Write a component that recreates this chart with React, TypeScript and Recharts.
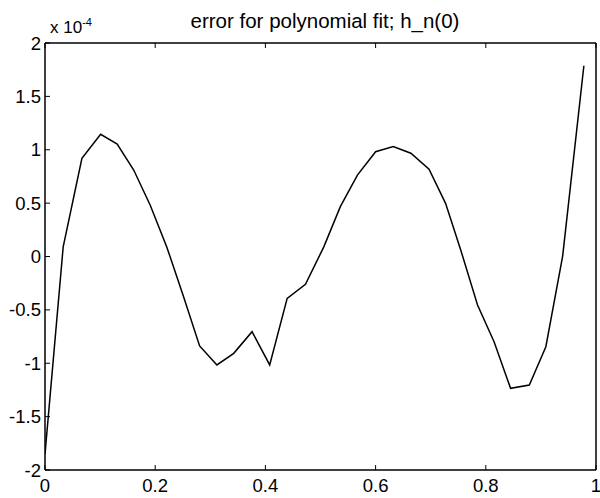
import React from "react";
import { LineChart, Line, XAxis, YAxis, ReferenceArea } from "recharts";

// sample positions and error values (units of 1e-4)
const xs = [
  0, 0.033, 0.067, 0.101, 0.131, 0.161, 0.191, 0.221, 0.2515, 0.2806, 0.312,
  0.3425, 0.3758, 0.4078, 0.4395, 0.4727, 0.506, 0.536, 0.567, 0.6, 0.632,
  0.664, 0.697, 0.727, 0.7545, 0.785, 0.815, 0.845, 0.879, 0.909, 0.9394,
  0.978,
];
const errs = [
  -1.85, 0.09, 0.92, 1.145, 1.054, 0.81, 0.48, 0.09, -0.377, -0.838, -1.016,
  -0.907, -0.704, -1.016, -0.392, -0.26, 0.09, 0.467, 0.763, 0.982, 1.03,
  0.967, 0.817, 0.498, 0.061, -0.454, -0.798, -1.235, -1.204, -0.845, 0.0,
  1.787,
];

const xTicks = [0, 0.2, 0.4, 0.6, 0.8, 1];
const yTicks = [-2, -1.5, -1, -0.5, 0, 0.5, 1, 1.5, 2];

const data = xs.map((x, i) => ({ x, err: errs[i] }));

const font = "'Liberation Sans', Arial, sans-serif";
const tickStyle = { fill: "#000", fontSize: 18.5, fontFamily: font };

export default function App() {
  return (
    <div
      style={{
        position: "absolute",
        left: 0,
        top: 0,
        width: 600,
        height: 498,
        background: "#fff",
        fontFamily: font,
      }}
    >
      {/* title */}
      <div
        style={{
          position: "absolute",
          left: 45,
          width: 560,
          top: 9,
          textAlign: "center",
          fontSize: 20.5,
          color: "#000",
          whiteSpace: "nowrap",
        }}
      >
        error for polynomial fit; h_n(0)
      </div>
      {/* exponent */}
      <div
        style={{
          position: "absolute",
          left: 50,
          top: 16,
          fontSize: 17,
          color: "#000",
          whiteSpace: "nowrap",
        }}
      >
        x 10<sup style={{ fontSize: 11 }}>-4</sup>
      </div>

      <LineChart
        width={600}
        height={498}
        data={data}
        margin={{ top: 42, right: 3, left: 0, bottom: 0 }}
      >
        <XAxis
          dataKey="x"
          type="number"
          domain={[0, 1]}
          ticks={xTicks}
          height={28}
          tickSize={-5}
          tickMargin={14}
          tick={tickStyle}
          stroke="#000"
          interval={0}
          allowDataOverflow
        />
        <XAxis
          xAxisId="top"
          orientation="top"
          dataKey="x"
          type="number"
          domain={[0, 1]}
          ticks={xTicks}
          height={1}
          tickSize={-5}
          tickFormatter={() => ""}
          stroke="#000"
          interval={0}
        />
        <YAxis
          type="number"
          domain={[-2, 2]}
          ticks={yTicks}
          width={45}
          tickSize={-5}
          tickMargin={9}
          tick={tickStyle}
          stroke="#000"
          interval={0}
          allowDataOverflow
        />
        <YAxis
          yAxisId="right"
          orientation="right"
          type="number"
          domain={[-2, 2]}
          ticks={yTicks}
          width={1}
          tickSize={-5}
          tickFormatter={() => ""}
          stroke="#000"
          interval={0}
        />
        <ReferenceArea
          x1={0}
          x2={1}
          y1={-2}
          y2={2}
          fill="none"
          stroke="#000"
          strokeWidth={1}
          fillOpacity={0}
        />
        <Line
          type="linear"
          dataKey="err"
          stroke="#000"
          strokeWidth={1.5}
          dot={false}
          isAnimationActive={false}
        />
      </LineChart>
    </div>
  );
}
